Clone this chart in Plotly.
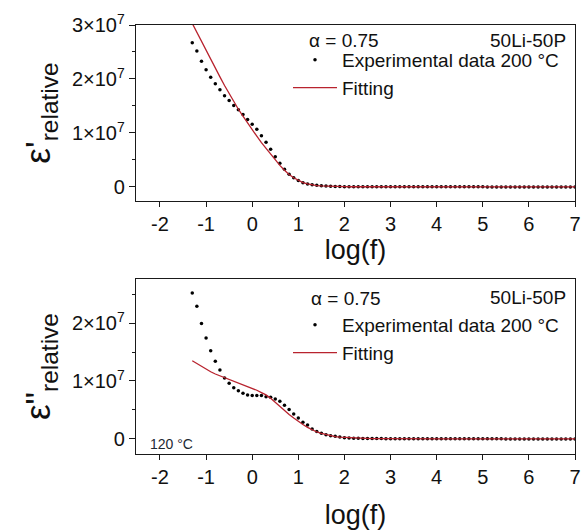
import plotly.graph_objects as go
from plotly.subplots import make_subplots

# log10 frequency grid (shared by both panels)
log_f = [-1.3, -1.2, -1.1, -1.0, -0.9, -0.8, -0.7, -0.6, -0.5, -0.4,
         -0.3, -0.2, -0.1, 0.0, 0.1, 0.2, 0.3, 0.4, 0.5, 0.6,
         0.7, 0.8, 0.9, 1.0, 1.1, 1.2, 1.3, 1.4, 1.5, 1.6,
         1.7, 1.8, 1.9, 2.0, 2.1, 2.2, 2.3, 2.4, 2.5, 2.6,
         2.7, 2.8, 2.9, 3.0, 3.1, 3.2, 3.3, 3.4, 3.5, 3.6,
         3.7, 3.8, 3.9, 4.0, 4.1, 4.2, 4.3, 4.4, 4.5, 4.6,
         4.7, 4.8, 4.9, 5.0, 5.1, 5.2, 5.3, 5.4, 5.5, 5.6,
         5.7, 5.8, 5.9, 6.0, 6.1, 6.2, 6.3, 6.4, 6.5, 6.6,
         6.7, 6.8, 6.9, 7.0]

# Real part (units of 1e7)
eps_real_exp = [2.67, 2.52, 2.33, 2.17, 2.03, 1.91, 1.80, 1.69, 1.60, 1.51,
                1.43, 1.34, 1.25, 1.16, 1.07, 0.95, 0.83, 0.70, 0.56, 0.44,
                0.33, 0.235, 0.17, 0.12, 0.08, 0.055, 0.04, 0.03, 0.022, 0.016,
                0.012, 0.009, 0.007, 0.006, 0.005, 0.005, 0.004, 0.004, 0.004, 0.003,
                0.003, 0.003, 0.003, 0.003, 0.002, 0.002, 0.002, 0.002, 0.002, 0.002,
                0.002, 0.002, 0.002, 0.002, 0.002, 0.002, 0.002, 0.002, 0.002, 0.002,
                0.002, 0.002, 0.002, 0.002, 0.001, 0.001, 0.001, 0.001, 0.001, 0.001,
                0.001, 0.001, 0.001, 0.001, 0.001, 0.001, 0.001, 0.001, 0.001, 0.001,
                0.001, 0.001, 0.001, 0.001]
eps_real_fit = [3.03, 2.86, 2.69, 2.52, 2.36, 2.20, 2.04, 1.88, 1.73, 1.58,
                1.44, 1.31, 1.18, 1.06, 0.94, 0.82, 0.71, 0.60, 0.49, 0.40,
                0.31, 0.23, 0.17, 0.12, 0.08, 0.055, 0.037, 0.026, 0.019, 0.014,
                0.010, 0.008, 0.006, 0.005, 0.004, 0.004, 0.003, 0.003, 0.003, 0.003,
                0.002, 0.002, 0.002, 0.002, 0.002, 0.002, 0.002, 0.002, 0.002, 0.002,
                0.002, 0.002, 0.002, 0.002, 0.002, 0.002, 0.002, 0.002, 0.001, 0.001,
                0.001, 0.001, 0.001, 0.001, 0.001, 0.001, 0.001, 0.001, 0.001, 0.001,
                0.001, 0.001, 0.001, 0.001, 0.001, 0.001, 0.001, 0.001, 0.001, 0.001,
                0.001, 0.001, 0.001, 0.001]

# Imaginary part (units of 1e7)
eps_imag_exp = [2.52, 2.29, 1.99, 1.74, 1.52, 1.34, 1.19, 1.05, 0.96, 0.885,
                0.83, 0.79, 0.76, 0.75, 0.75, 0.75, 0.73, 0.72, 0.69, 0.65,
                0.58, 0.51, 0.43, 0.36, 0.29, 0.24, 0.17, 0.13, 0.10, 0.074,
                0.057, 0.046, 0.034, 0.022, 0.017, 0.013, 0.011, 0.009, 0.008, 0.007,
                0.006, 0.006, 0.005, 0.005, 0.004, 0.004, 0.004, 0.004, 0.003, 0.003,
                0.003, 0.003, 0.003, 0.003, 0.002, 0.002, 0.002, 0.002, 0.002, 0.002,
                0.002, 0.002, 0.002, 0.002, 0.002, 0.002, 0.002, 0.002, 0.001, 0.001,
                0.001, 0.001, 0.001, 0.001, 0.001, 0.001, 0.001, 0.001, 0.001, 0.001,
                0.001, 0.001, 0.001, 0.001]
eps_imag_fit = [1.35, 1.30, 1.25, 1.20, 1.16, 1.12, 1.09, 1.06, 1.03, 1.00,
                0.97, 0.93, 0.90, 0.87, 0.84, 0.80, 0.76, 0.70, 0.63, 0.55,
                0.48, 0.42, 0.36, 0.30, 0.25, 0.20, 0.16, 0.12, 0.095, 0.075,
                0.055, 0.040, 0.030, 0.025, 0.018, 0.013, 0.010, 0.008, 0.006, 0.005,
                0.005, 0.004, 0.004, 0.004, 0.003, 0.003, 0.003, 0.003, 0.003, 0.002,
                0.002, 0.002, 0.002, 0.002, 0.002, 0.002, 0.002, 0.002, 0.002, 0.002,
                0.002, 0.002, 0.002, 0.002, 0.001, 0.001, 0.001, 0.001, 0.001, 0.001,
                0.001, 0.001, 0.001, 0.001, 0.001, 0.001, 0.001, 0.001, 0.001, 0.001,
                0.001, 0.001, 0.001, 0.001]

x_ticks = [-2, -1, 0, 1, 2, 3, 4, 5, 6, 7]
x_ticktext = ["-2", "-1", "0", "1", "2", "3", "4", "5", "6", "7"]
y_ticks_top = [0, 1, 2, 3]
y_ticktext_top = ["0", "1×10<sup>7</sup>", "2×10<sup>7</sup>", "3×10<sup>7</sup>"]
y_ticks_bot = [0, 1, 2]
y_ticktext_bot = ["0", "1×10<sup>7</sup>", "2×10<sup>7</sup>"]

exp_label = "Experimental data 200 °C"
fit_label = "Fitting"
alpha_label = "α = 0.75"
sample_label = "50Li-50P"
temp_label = "120 °C"

FONT = "Liberation Sans, Arial, sans-serif"
RED = "#b8232e"
W, H = 585, 530
ML, MR, MT, MB = 136, 10, 25, 76

fig = make_subplots(rows=2, cols=1, vertical_spacing=0.18)

fig.add_trace(go.Scatter(x=log_f, y=eps_real_exp, mode="markers", name=exp_label,
                         marker=dict(color="black", size=3.5), legend="legend"), row=1, col=1)
fig.add_trace(go.Scatter(x=log_f, y=eps_real_fit, mode="lines", name=fit_label,
                         line=dict(color=RED, width=1.3), legend="legend"), row=1, col=1)
fig.add_trace(go.Scatter(x=log_f, y=eps_imag_exp, mode="markers", name=exp_label,
                         marker=dict(color="black", size=3.5), legend="legend2"), row=2, col=1)
fig.add_trace(go.Scatter(x=log_f, y=eps_imag_fit, mode="lines", name=fit_label,
                         line=dict(color=RED, width=1.3), legend="legend2"), row=2, col=1)

plot_h = H - MT - MB
plot_w = W - ML - MR


def py(pix):  # pixel y -> paper
    return (H - MB - pix) / plot_h


def px(pix):  # pixel x -> paper
    return (pix - ML) / plot_w


top_dom = [py(201), 1.0]
bot_dom = [0.0, py(279)]

axis_common = dict(showline=True, linecolor="#1a1a1a", linewidth=1.4, mirror=True,
                   ticks="outside", tickcolor="#1a1a1a", showgrid=False, zeroline=False,
                   automargin=False,
                   tickfont=dict(family=FONT, size=20, color="#111"))

fig.update_xaxes(range=[-2.52, 7.0], tickvals=x_ticks, ticktext=x_ticktext,
                 ticklen=5, tickwidth=1.2,
                 title=dict(text="log(f)", font=dict(family=FONT, size=27, color="#111")),
                 **axis_common)
fig.update_xaxes(title_standoff=4, row=1, col=1)
fig.update_xaxes(title_standoff=24, row=2, col=1)
fig.update_yaxes(ticklen=6, tickwidth=1.2, **axis_common)
fig.update_yaxes(range=[-0.26, 3.0], tickvals=y_ticks_top, ticktext=y_ticktext_top,
                 domain=top_dom,
                 minor=dict(tickmode="array", tickvals=[0.5, 1.5, 2.5], ticks="outside",
                            ticklen=3, tickcolor="#1a1a1a"),
                 title=dict(text="ε'<sub>relative</sub>", standoff=10,
                            font=dict(family=FONT, size=35, color="#111")),
                 row=1, col=1)
fig.update_yaxes(range=[-0.26, 2.76], tickvals=y_ticks_bot, ticktext=y_ticktext_bot,
                 domain=bot_dom,
                 minor=dict(tickmode="array", tickvals=[0.5, 1.5, 2.5], ticks="outside",
                            ticklen=3, tickcolor="#1a1a1a"),
                 title=dict(text="ε\"<sub>relative</sub>", standoff=10,
                            font=dict(family=FONT, size=35, color="#111")),
                 row=2, col=1)

legend_font = dict(family=FONT, size=19, color="#111")
fig.update_layout(
    width=W, height=H,
    margin=dict(l=ML, r=MR, t=MT, b=MB, autoexpand=False),
    paper_bgcolor="white", plot_bgcolor="white",
    showlegend=True,
    legend=dict(x=px(288), y=py(41), xanchor="left", yanchor="top",
                font=legend_font, bgcolor="rgba(0,0,0,0)", tracegroupgap=0,
                itemwidth=44),
    legend2=dict(x=px(288), y=py(306), xanchor="left", yanchor="top",
                 font=legend_font, bgcolor="rgba(0,0,0,0)", tracegroupgap=0,
                 itemwidth=44),
)

ann_font = dict(family=FONT, size=19, color="#111")
fig.add_annotation(x=px(307), y=py(41), xref="paper", yref="paper", text=alpha_label,
                   showarrow=False, xanchor="left", yanchor="middle", font=ann_font)
fig.add_annotation(x=px(568), y=py(41), xref="paper", yref="paper", text=sample_label,
                   showarrow=False, xanchor="right", yanchor="middle", font=ann_font)
fig.add_annotation(x=px(309), y=py(298), xref="paper", yref="paper", text=alpha_label,
                   showarrow=False, xanchor="left", yanchor="middle", font=ann_font)
fig.add_annotation(x=px(568), y=py(297), xref="paper", yref="paper", text=sample_label,
                   showarrow=False, xanchor="right", yanchor="middle", font=ann_font)
fig.add_annotation(x=px(148), y=py(444), xref="paper", yref="paper", text=temp_label,
                   showarrow=False, xanchor="left", yanchor="middle",
                   font=dict(family=FONT, size=14, color="#1c2833"))

fig.write_html("out.html")
